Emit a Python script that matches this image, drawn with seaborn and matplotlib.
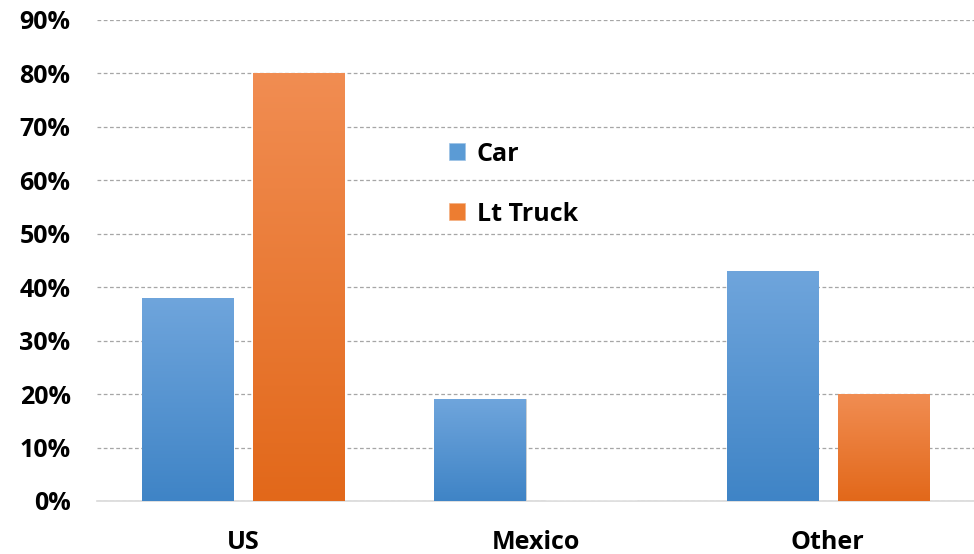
import numpy as np
import pandas as pd
import seaborn as sns
import matplotlib.pyplot as plt
from matplotlib.colors import LinearSegmentedColormap
from matplotlib.patches import Patch
from matplotlib.ticker import PercentFormatter

regions = ["US", "Mexico", "Other"]
car = [0.38, 0.19, 0.43]
lt_truck = [0.80, 0.0, 0.20]

df = pd.DataFrame({
    "region": regions * 2,
    "share": car + lt_truck,
    "type": ["Car"] * 3 + ["Lt Truck"] * 3,
})

sns.set_theme(style="white")
plt.rcParams["font.family"] = ["Open Sans", "DejaVu Sans"]

fig = plt.figure(figsize=(9.74, 5.54), dpi=100)
ax = fig.add_axes([0.0996, 0.0957, 0.9004, 0.8683])

sns.barplot(data=df, x="region", y="share", hue="type", width=0.76, gap=0.18,
            palette=["#5b9bd5", "#ed7d31"], ax=ax, legend=False, zorder=3)

# vertical gradient fill like the original (lighter top, darker bottom)
grads = {
    "Car": LinearSegmentedColormap.from_list("c", ["#3f84c6", "#6fa5dc"]),
    "Lt Truck": LinearSegmentedColormap.from_list("t", ["#e2681a", "#f18d52"]),
}
grad = np.linspace(0, 1, 256).reshape(-1, 1)
for cont, name in zip(ax.containers, ["Car", "Lt Truck"]):
    for bar in cont:
        x0, y0 = bar.get_x(), bar.get_y()
        w, h = bar.get_width(), bar.get_height()
        if h <= 0:
            continue
        bar.set_edgecolor("#d0d0d0")
        bar.set_linewidth(0.6)
        im = ax.imshow(grad, cmap=grads[name], origin="lower", aspect="auto",
                       extent=[x0, x0 + w, y0, y0 + h], zorder=4)
        im.set_clip_path(bar)

ax.set_xlim(-0.5, 2.5)
ax.set_ylim(0, 0.9)
ax.set_yticks(np.arange(0, 0.91, 0.1))
ax.yaxis.set_major_formatter(PercentFormatter(1.0, decimals=0))
ax.grid(axis="y", linestyle=(0, (3, 2)), color="#a6a6a6", linewidth=0.9, zorder=0)
ax.set_axisbelow(True)
ax.set_xlabel("")
ax.set_ylabel("")
for s in ["left", "right", "top"]:
    ax.spines[s].set_visible(False)
ax.spines["bottom"].set_color("#d9d9d9")
ax.spines["bottom"].set_linewidth(1.2)
ax.tick_params(axis="both", length=0, labelsize=18, colors="black")
ax.tick_params(axis="y", pad=19)
ax.tick_params(axis="x", pad=21)
for lab in ax.get_xticklabels() + ax.get_yticklabels():
    lab.set_fontweight("bold")

handles = [Patch(facecolor="#5b9bd5", edgecolor="#9dc3e6", linewidth=0.5),
           Patch(facecolor="#ed7d31", edgecolor="#f4b183", linewidth=0.5)]
leg = ax.legend(handles, ["Car", "Lt Truck"], loc="upper left",
                bbox_to_anchor=(0.438, 0.785), bbox_transform=fig.transFigure,
                frameon=False, fontsize=18, labelspacing=1.4,
                handlelength=0.65, handleheight=0.65, handletextpad=0.45)
for t in leg.get_texts():
    t.set_fontweight("bold")
    t.set_color("black")

fig.savefig("out.png", dpi=100)
